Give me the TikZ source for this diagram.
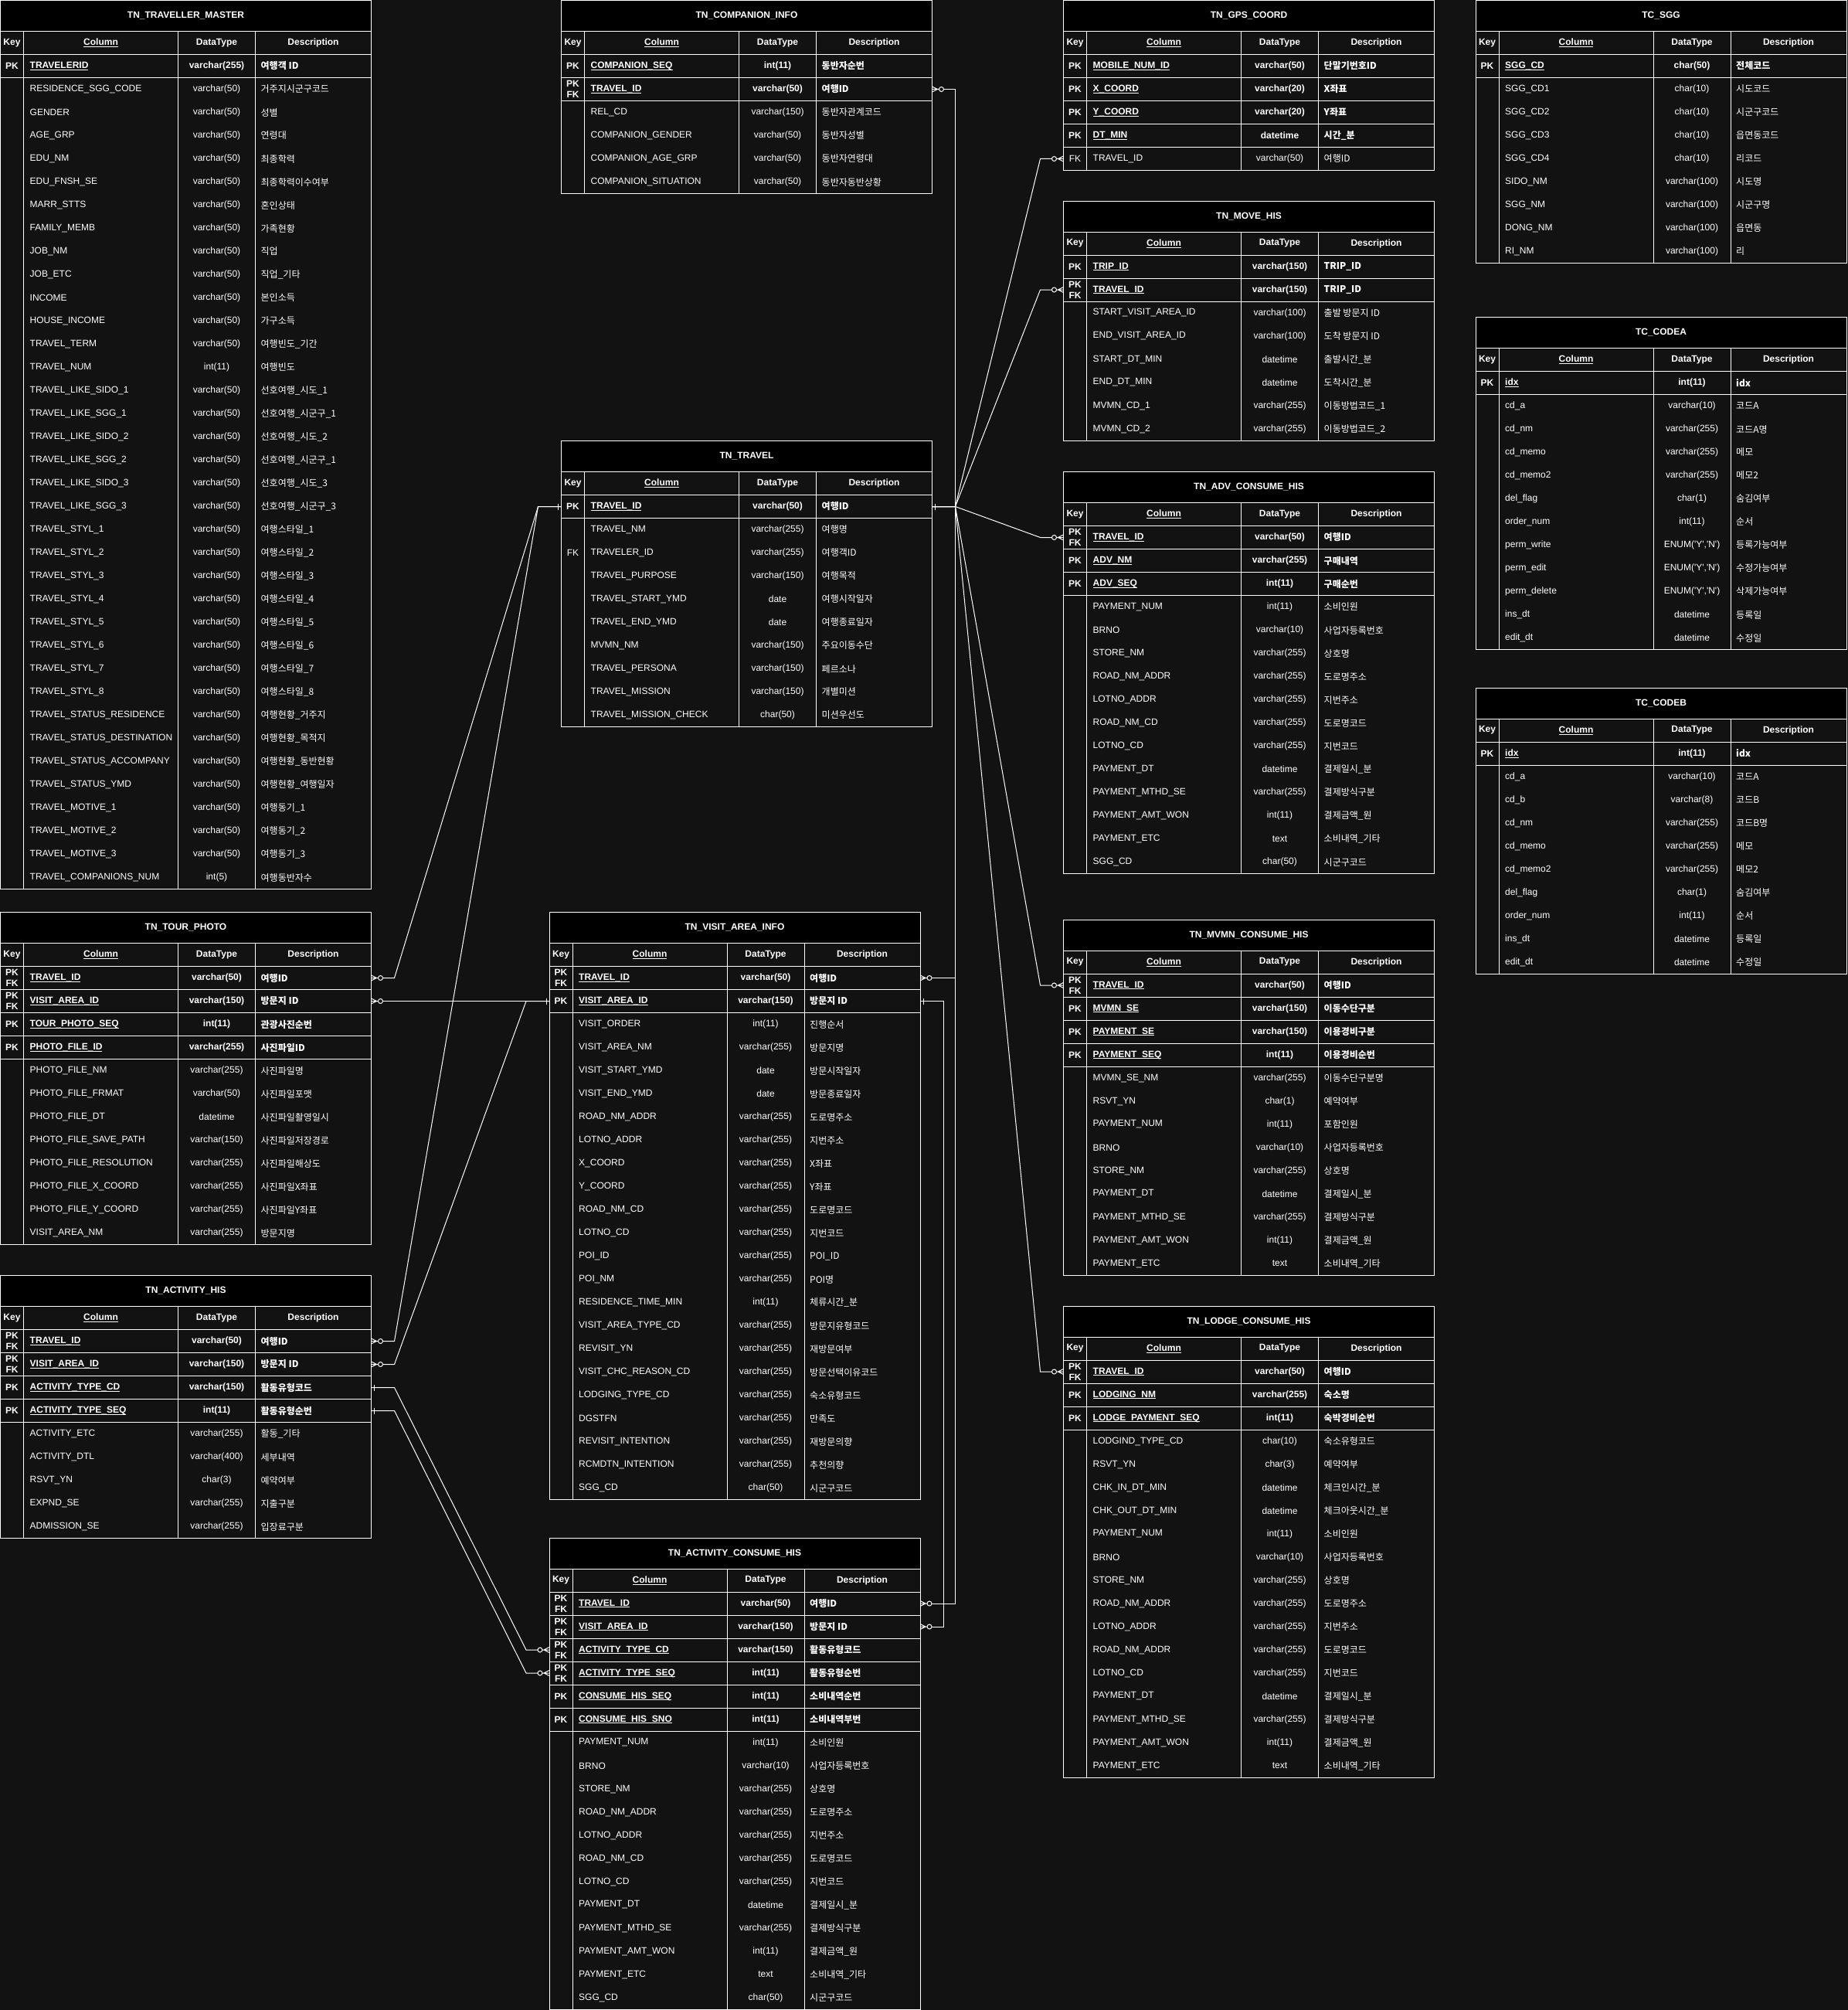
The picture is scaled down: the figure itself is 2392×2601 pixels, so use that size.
\documentclass[tikz,border=0pt]{standalone}
\usepackage{fontspec}
\setmainfont{Liberation Sans}
\newfontfamily\krfont{Noto Sans CJK KR}
\usepackage{xcolor}
\definecolor{erBack}{RGB}{18,18,18}
\definecolor{erLine}{RGB}{255,255,255}

% entity-relation end marks
\pgfdeclarearrow{
  name = ERone,
  setup code = {
    \pgfarrowssettipend{0pt}
    \pgfarrowssetlineend{0pt}
    \pgfarrowssetbackend{-5pt}
    \pgfarrowssetvisualbackend{-5pt}
  },
  drawing code = {
    \pgfpathmoveto{\pgfqpoint{-4pt}{4pt}}
    \pgfpathlineto{\pgfqpoint{-4pt}{-4pt}}
    \pgfusepathqstroke
  }
}
\pgfdeclarearrow{
  name = ERmany,
  setup code = {
    \pgfarrowssettipend{0pt}
    \pgfarrowssetlineend{-15pt}
    \pgfarrowssetbackend{-15pt}
    \pgfarrowssetvisualbackend{-15pt}
  },
  drawing code = {
    \pgfpathmoveto{\pgfqpoint{0pt}{3.5pt}}
    \pgfpathlineto{\pgfqpoint{-7pt}{0pt}}
    \pgfpathlineto{\pgfqpoint{0pt}{-3.5pt}}
    \pgfpathmoveto{\pgfqpoint{0pt}{0pt}}
    \pgfpathlineto{\pgfqpoint{-9pt}{0pt}}
    \pgfpathcircle{\pgfqpoint{-12pt}{0pt}}{3pt}
    \pgfusepathqstroke
  }
}

\newcommand{\erfont}{\fontsize{12}{14}\selectfont}
\tikzstyle{erline} = [draw=erLine, line width=1pt]
\tikzstyle{relline} = [erline, ERone-ERmany]
\tikzstyle{rowbox} = [inner sep=0pt, outer sep=0pt, minimum width=480, minimum height=30]
\tikzstyle{cell} = [inner sep=0pt, text=white, font=\erfont]
\tikzstyle{keycell} = [cell, align=center]
\tikzstyle{colcell} = [cell, anchor=west]
\tikzstyle{typecell} = [cell]
\tikzstyle{desccell} = [cell, anchor=west]
\tikzstyle{headcell} = [cell, font=\erfont\bfseries]
\tikzstyle{titlecell} = [headcell]

\newcommand{\PF}{PK\\FK}
\newcommand{\enumyn}{ENUM(\textquotesingle Y\textquotesingle,\textquotesingle N\textquotesingle)}

% #1 name, #2 top left, #3 title, #4 key rows, #5 rows Key/Column/DataType/Description
\newcommand{\ertable}[5]{%
  \begin{scope}[shift={#2}]
    \foreach \rk/\rc/\rt/\rd [count=\i] in {#5} {
      \ifnum\i>#4\relax
        \def\erw{\mdseries}\let\erul\relax
      \else
        \def\erw{\bfseries}\let\erul\underbar
        \draw[erline] (0,70+30*\i) -- (480,70+30*\i);
      \fi
      \node[rowbox] (#1-\i) at (240,55+30*\i) {};
      \node[keycell, font=\erfont\erw] (#1-\i-key) at (15,55+30*\i) {\rk};
      \node[colcell, font=\erfont\erw] (#1-\i-col) at (38,55+30*\i) {\erul{\rc}};
      \node[typecell, font=\erfont\erw] (#1-\i-type) at (280,55+30*\i) {\rt};
      \node[desccell, font=\krfont\erfont\erw] (#1-\i-desc) at (337,55+30*\i) {\rd};
      \xdef\ernrows{\i}
    }
    \draw[erline, fill=black] (0,0) rectangle (480,40);
    \draw[erline] (0,40) rectangle (480,70+30*\ernrows);
    \draw[erline] (0,70) -- (480,70);
    \foreach \cx in {30,230,330}
      \draw[erline] (\cx,40) -- (\cx,70+30*\ernrows);
    \node[titlecell] (#1) at (240,20) {#3};
    \node[headcell] (#1-hkey) at (15,55) {Key};
    \node[headcell] (#1-hcol) at (130,55) {\underbar{Column}};
    \node[headcell] (#1-htype) at (280,55) {DataType};
    \node[headcell] (#1-hdesc) at (405,55) {Description};
  \end{scope}
}

\begin{document}
\begin{tikzpicture}[x=1pt, y=-1pt]
  \useasboundingbox (0,0) rectangle (2392,2601);
  \fill[erBack] (0,0) rectangle (2392,2601);

  \ertable{master}{(0.5,0.5)}{TN\_TRAVELLER\_MASTER}{1}{
    PK/TRAVELERID/varchar(255)/여행객 ID,
    {}/RESIDENCE\_SGG\_CODE/varchar(50)/거주지시군구코드,
    {}/GENDER/varchar(50)/성별,
    {}/AGE\_GRP/varchar(50)/연령대,
    {}/EDU\_NM/varchar(50)/최종학력,
    {}/EDU\_FNSH\_SE/varchar(50)/최종학력이수여부,
    {}/MARR\_STTS/varchar(50)/혼인상태,
    {}/FAMILY\_MEMB/varchar(50)/가족현황,
    {}/JOB\_NM/varchar(50)/직업,
    {}/JOB\_ETC/varchar(50)/직업\_기타,
    {}/INCOME/varchar(50)/본인소득,
    {}/HOUSE\_INCOME/varchar(50)/가구소득,
    {}/TRAVEL\_TERM/varchar(50)/여행빈도\_기간,
    {}/TRAVEL\_NUM/int(11)/여행빈도,
    {}/TRAVEL\_LIKE\_SIDO\_1/varchar(50)/선호여행\_시도\_1,
    {}/TRAVEL\_LIKE\_SGG\_1/varchar(50)/선호여행\_시군구\_1,
    {}/TRAVEL\_LIKE\_SIDO\_2/varchar(50)/선호여행\_시도\_2,
    {}/TRAVEL\_LIKE\_SGG\_2/varchar(50)/선호여행\_시군구\_1,
    {}/TRAVEL\_LIKE\_SIDO\_3/varchar(50)/선호여행\_시도\_3,
    {}/TRAVEL\_LIKE\_SGG\_3/varchar(50)/선호여행\_시군구\_3,
    {}/TRAVEL\_STYL\_1/varchar(50)/여행스타일\_1,
    {}/TRAVEL\_STYL\_2/varchar(50)/여행스타일\_2,
    {}/TRAVEL\_STYL\_3/varchar(50)/여행스타일\_3,
    {}/TRAVEL\_STYL\_4/varchar(50)/여행스타일\_4,
    {}/TRAVEL\_STYL\_5/varchar(50)/여행스타일\_5,
    {}/TRAVEL\_STYL\_6/varchar(50)/여행스타일\_6,
    {}/TRAVEL\_STYL\_7/varchar(50)/여행스타일\_7,
    {}/TRAVEL\_STYL\_8/varchar(50)/여행스타일\_8,
    {}/TRAVEL\_STATUS\_RESIDENCE/varchar(50)/여행현황\_거주지,
    {}/TRAVEL\_STATUS\_DESTINATION/varchar(50)/여행현황\_목적지,
    {}/TRAVEL\_STATUS\_ACCOMPANY/varchar(50)/여행현황\_동반현황,
    {}/TRAVEL\_STATUS\_YMD/varchar(50)/여행현황\_여행일자,
    {}/TRAVEL\_MOTIVE\_1/varchar(50)/여행동기\_1,
    {}/TRAVEL\_MOTIVE\_2/varchar(50)/여행동기\_2,
    {}/TRAVEL\_MOTIVE\_3/varchar(50)/여행동기\_3,
    {}/TRAVEL\_COMPANIONS\_NUM/int(5)/여행동반자수}

  \ertable{companion}{(726.5,0.5)}{TN\_COMPANION\_INFO}{2}{
    PK/COMPANION\_SEQ/int(11)/동반자순번,
    \PF/TRAVEL\_ID/varchar(50)/여행ID,
    {}/REL\_CD/varchar(150)/동반자관계코드,
    {}/COMPANION\_GENDER/varchar(50)/동반자성별,
    {}/COMPANION\_AGE\_GRP/varchar(50)/동반자연령대,
    {}/COMPANION\_SITUATION/varchar(50)/동반자동반상황}

  \ertable{travel}{(726.5,570.5)}{TN\_TRAVEL}{1}{
    PK/TRAVEL\_ID/varchar(50)/여행ID,
    {}/TRAVEL\_NM/varchar(255)/여행명,
    FK/TRAVELER\_ID/varchar(255)/여행객ID,
    {}/TRAVEL\_PURPOSE/varchar(150)/여행목적,
    {}/TRAVEL\_START\_YMD/date/여행시작일자,
    {}/TRAVEL\_END\_YMD/date/여행종료일자,
    {}/MVMN\_NM/varchar(150)/주요이동수단,
    {}/TRAVEL\_PERSONA/varchar(150)/페르소나,
    {}/TRAVEL\_MISSION/varchar(150)/개별미션,
    {}/TRAVEL\_MISSION\_CHECK/char(50)/미션우선도}

  \ertable{tour}{(0.5,1180.5)}{TN\_TOUR\_PHOTO}{4}{
    \PF/TRAVEL\_ID/varchar(50)/여행ID,
    \PF/VISIT\_AREA\_ID/varchar(150)/방문지 ID,
    PK/TOUR\_PHOTO\_SEQ/int(11)/관광사진순번,
    PK/PHOTO\_FILE\_ID/varchar(255)/사진파일ID,
    {}/PHOTO\_FILE\_NM/varchar(255)/사진파일명,
    {}/PHOTO\_FILE\_FRMAT/varchar(50)/사진파일포맷,
    {}/PHOTO\_FILE\_DT/datetime/사진파일촬영일시,
    {}/PHOTO\_FILE\_SAVE\_PATH/varchar(150)/사진파일저장경로,
    {}/PHOTO\_FILE\_RESOLUTION/varchar(255)/사진파일해상도,
    {}/PHOTO\_FILE\_X\_COORD/varchar(255)/사진파일X좌표,
    {}/PHOTO\_FILE\_Y\_COORD/varchar(255)/사진파일Y좌표,
    {}/VISIT\_AREA\_NM/varchar(255)/방문지명}

  \ertable{acthis}{(0.5,1650.5)}{TN\_ACTIVITY\_HIS}{4}{
    \PF/TRAVEL\_ID/varchar(50)/여행ID,
    \PF/VISIT\_AREA\_ID/varchar(150)/방문지 ID,
    PK/ACTIVITY\_TYPE\_CD/varchar(150)/활동유형코드,
    PK/ACTIVITY\_TYPE\_SEQ/int(11)/활동유형순번,
    {}/ACTIVITY\_ETC/varchar(255)/활동\_기타,
    {}/ACTIVITY\_DTL/varchar(400)/세부내역,
    {}/RSVT\_YN/char(3)/예약여부,
    {}/EXPND\_SE/varchar(255)/지출구분,
    {}/ADMISSION\_SE/varchar(255)/입장료구분}

  \ertable{visit}{(711,1180.5)}{TN\_VISIT\_AREA\_INFO}{2}{
    \PF/TRAVEL\_ID/varchar(50)/여행ID,
    PK/VISIT\_AREA\_ID/varchar(150)/방문지 ID,
    {}/VISIT\_ORDER/int(11)/진행순서,
    {}/VISIT\_AREA\_NM/varchar(255)/방문지명,
    {}/VISIT\_START\_YMD/date/방문시작일자,
    {}/VISIT\_END\_YMD/date/방문종료일자,
    {}/ROAD\_NM\_ADDR/varchar(255)/도로명주소,
    {}/LOTNO\_ADDR/varchar(255)/지번주소,
    {}/X\_COORD/varchar(255)/X좌표,
    {}/Y\_COORD/varchar(255)/Y좌표,
    {}/ROAD\_NM\_CD/varchar(255)/도로명코드,
    {}/LOTNO\_CD/varchar(255)/지번코드,
    {}/POI\_ID/varchar(255)/POI\_ID,
    {}/POI\_NM/varchar(255)/POI명,
    {}/RESIDENCE\_TIME\_MIN/int(11)/체류시간\_분,
    {}/VISIT\_AREA\_TYPE\_CD/varchar(255)/방문지유형코드,
    {}/REVISIT\_YN/varchar(255)/재방문여부,
    {}/VISIT\_CHC\_REASON\_CD/varchar(255)/방문선택이유코드,
    {}/LODGING\_TYPE\_CD/varchar(255)/숙소유형코드,
    {}/DGSTFN/varchar(255)/만족도,
    {}/REVISIT\_INTENTION/varchar(255)/재방문의향,
    {}/RCMDTN\_INTENTION/varchar(255)/추천의향,
    {}/SGG\_CD/char(50)/시군구코드}

  \ertable{actcons}{(711,1990)}{TN\_ACTIVITY\_CONSUME\_HIS}{6}{
    \PF/TRAVEL\_ID/varchar(50)/여행ID,
    \PF/VISIT\_AREA\_ID/varchar(150)/방문지 ID,
    \PF/ACTIVITY\_TYPE\_CD/varchar(150)/활동유형코드,
    \PF/ACTIVITY\_TYPE\_SEQ/int(11)/활동유형순번,
    PK/CONSUME\_HIS\_SEQ/int(11)/소비내역순번,
    PK/CONSUME\_HIS\_SNO/int(11)/소비내역부번,
    {}/PAYMENT\_NUM/int(11)/소비인원,
    {}/BRNO/varchar(10)/사업자등록번호,
    {}/STORE\_NM/varchar(255)/상호명,
    {}/ROAD\_NM\_ADDR/varchar(255)/도로명주소,
    {}/LOTNO\_ADDR/varchar(255)/지번주소,
    {}/ROAD\_NM\_CD/varchar(255)/도로명코드,
    {}/LOTNO\_CD/varchar(255)/지번코드,
    {}/PAYMENT\_DT/datetime/결제일시\_분,
    {}/PAYMENT\_MTHD\_SE/varchar(255)/결제방식구분,
    {}/PAYMENT\_AMT\_WON/int(11)/결제금액\_원,
    {}/PAYMENT\_ETC/text/소비내역\_기타,
    {}/SGG\_CD/char(50)/시군구코드}

  \ertable{gps}{(1376.5,0.5)}{TN\_GPS\_COORD}{4}{
    PK/MOBILE\_NUM\_ID/varchar(50)/단말기번호ID,
    PK/X\_COORD/varchar(20)/X좌표,
    PK/Y\_COORD/varchar(20)/Y좌표,
    PK/DT\_MIN/datetime/시간\_분,
    FK/TRAVEL\_ID/varchar(50)/여행ID}

  \ertable{move}{(1376.5,260)}{TN\_MOVE\_HIS}{2}{
    PK/TRIP\_ID/varchar(150)/TRIP\_ID,
    \PF/TRAVEL\_ID/varchar(150)/TRIP\_ID,
    {}/START\_VISIT\_AREA\_ID/varchar(100)/출발 방문지 ID,
    {}/END\_VISIT\_AREA\_ID/varchar(100)/도착 방문지 ID,
    {}/START\_DT\_MIN/datetime/출발시간\_분,
    {}/END\_DT\_MIN/datetime/도착시간\_분,
    {}/MVMN\_CD\_1/varchar(255)/이동방법코드\_1,
    {}/MVMN\_CD\_2/varchar(255)/이동방법코드\_2}

  \ertable{adv}{(1376.5,610.5)}{TN\_ADV\_CONSUME\_HIS}{3}{
    \PF/TRAVEL\_ID/varchar(50)/여행ID,
    PK/ADV\_NM/varchar(255)/구매내역,
    PK/ADV\_SEQ/int(11)/구매순번,
    {}/PAYMENT\_NUM/int(11)/소비인원,
    {}/BRNO/varchar(10)/사업자등록번호,
    {}/STORE\_NM/varchar(255)/상호명,
    {}/ROAD\_NM\_ADDR/varchar(255)/도로명주소,
    {}/LOTNO\_ADDR/varchar(255)/지번주소,
    {}/ROAD\_NM\_CD/varchar(255)/도로명코드,
    {}/LOTNO\_CD/varchar(255)/지번코드,
    {}/PAYMENT\_DT/datetime/결제일시\_분,
    {}/PAYMENT\_MTHD\_SE/varchar(255)/결제방식구분,
    {}/PAYMENT\_AMT\_WON/int(11)/결제금액\_원,
    {}/PAYMENT\_ETC/text/소비내역\_기타,
    {}/SGG\_CD/char(50)/시군구코드}

  \ertable{mvmn}{(1376.5,1190)}{TN\_MVMN\_CONSUME\_HIS}{4}{
    \PF/TRAVEL\_ID/varchar(50)/여행ID,
    PK/MVMN\_SE/varchar(150)/이동수단구분,
    PK/PAYMENT\_SE/varchar(150)/이용경비구분,
    PK/PAYMENT\_SEQ/int(11)/이용경비순번,
    {}/MVMN\_SE\_NM/varchar(255)/이동수단구분명,
    {}/RSVT\_YN/char(1)/예약여부,
    {}/PAYMENT\_NUM/int(11)/포함인원,
    {}/BRNO/varchar(10)/사업자등록번호,
    {}/STORE\_NM/varchar(255)/상호명,
    {}/PAYMENT\_DT/datetime/결제일시\_분,
    {}/PAYMENT\_MTHD\_SE/varchar(255)/결제방식구분,
    {}/PAYMENT\_AMT\_WON/int(11)/결제금액\_원,
    {}/PAYMENT\_ETC/text/소비내역\_기타}

  \ertable{lodge}{(1376.5,1690)}{TN\_LODGE\_CONSUME\_HIS}{3}{
    \PF/TRAVEL\_ID/varchar(50)/여행ID,
    PK/LODGING\_NM/varchar(255)/숙소명,
    PK/LODGE\_PAYMENT\_SEQ/int(11)/숙박경비순번,
    {}/LODGIND\_TYPE\_CD/char(10)/숙소유형코드,
    {}/RSVT\_YN/char(3)/예약여부,
    {}/CHK\_IN\_DT\_MIN/datetime/체크인시간\_분,
    {}/CHK\_OUT\_DT\_MIN/datetime/체크아웃시간\_분,
    {}/PAYMENT\_NUM/int(11)/소비인원,
    {}/BRNO/varchar(10)/사업자등록번호,
    {}/STORE\_NM/varchar(255)/상호명,
    {}/ROAD\_NM\_ADDR/varchar(255)/도로명주소,
    {}/LOTNO\_ADDR/varchar(255)/지번주소,
    {}/ROAD\_NM\_ADDR/varchar(255)/도로명코드,
    {}/LOTNO\_CD/varchar(255)/지번코드,
    {}/PAYMENT\_DT/datetime/결제일시\_분,
    {}/PAYMENT\_MTHD\_SE/varchar(255)/결제방식구분,
    {}/PAYMENT\_AMT\_WON/int(11)/결제금액\_원,
    {}/PAYMENT\_ETC/text/소비내역\_기타}

  \ertable{sgg}{(1910,0.5)}{TC\_SGG}{1}{
    PK/SGG\_CD/char(50)/전체코드,
    {}/SGG\_CD1/char(10)/시도코드,
    {}/SGG\_CD2/char(10)/시군구코드,
    {}/SGG\_CD3/char(10)/읍면동코드,
    {}/SGG\_CD4/char(10)/리코드,
    {}/SIDO\_NM/varchar(100)/시도명,
    {}/SGG\_NM/varchar(100)/시군구명,
    {}/DONG\_NM/varchar(100)/읍면동,
    {}/RI\_NM/varchar(100)/리}

  \ertable{codea}{(1910,410.5)}{TC\_CODEA}{1}{
    PK/idx/int(11)/idx,
    {}/cd\_a/varchar(10)/코드A,
    {}/cd\_nm/varchar(255)/코드A명,
    {}/cd\_memo/varchar(255)/메모,
    {}/cd\_memo2/varchar(255)/메모2,
    {}/del\_flag/char(1)/숨김여부,
    {}/order\_num/int(11)/순서,
    {}/perm\_write/{\enumyn}/등록가능여부,
    {}/perm\_edit/{\enumyn}/수정가능여부,
    {}/perm\_delete/{\enumyn}/삭제가능여부,
    {}/ins\_dt/datetime/등록일,
    {}/edit\_dt/datetime/수정일}

  \ertable{codeb}{(1910,890)}{TC\_CODEB}{1}{
    PK/idx/int(11)/idx,
    {}/cd\_a/varchar(10)/코드A,
    {}/cd\_b/varchar(8)/코드B,
    {}/cd\_nm/varchar(255)/코드B명,
    {}/cd\_memo/varchar(255)/메모,
    {}/cd\_memo2/varchar(255)/메모2,
    {}/del\_flag/char(1)/숨김여부,
    {}/order\_num/int(11)/순서,
    {}/ins\_dt/datetime/등록일,
    {}/edit\_dt/datetime/수정일}

  % relations
  \draw[relline] (travel-1.west) -- ++(-30,0) -- ([xshift=30]tour-1.east) -- (tour-1.east);
  \draw[relline] (travel-1.west) -- ++(-30,0) -- ([xshift=30]acthis-1.east) -- (acthis-1.east);
  \draw[relline] (visit-2.west) -- ++(-30,0) -- ([xshift=30]tour-2.east) -- (tour-2.east);
  \draw[relline] (visit-2.west) -- ++(-30,0) -- ([xshift=30]acthis-2.east) -- (acthis-2.east);
  \draw[relline] (acthis-3.east) -- ++(30,0) -- ([xshift=-30]actcons-3.west) -- (actcons-3.west);
  \draw[relline] (acthis-4.east) -- ++(30,0) -- ([xshift=-30]actcons-4.west) -- (actcons-4.west);
  \draw[relline] (travel-1.east) -- ++(30,0) |- (companion-2.east);
  \draw[relline] (travel-1.east) -- ++(30,0) |- (visit-1.east);
  \draw[relline] (travel-1.east) -- ++(30,0) |- (actcons-1.east);
  \draw[relline] (visit-2.east) -- ++(30,0) |- (actcons-2.east);
  \foreach \tb/\rw in {gps/5, move/2, adv/1, mvmn/1, lodge/1}
    \draw[relline] (travel-1.east) -- ++(30,0) -- ([xshift=-30]\tb-\rw.west) -- (\tb-\rw.west);
\end{tikzpicture}
\end{document}
